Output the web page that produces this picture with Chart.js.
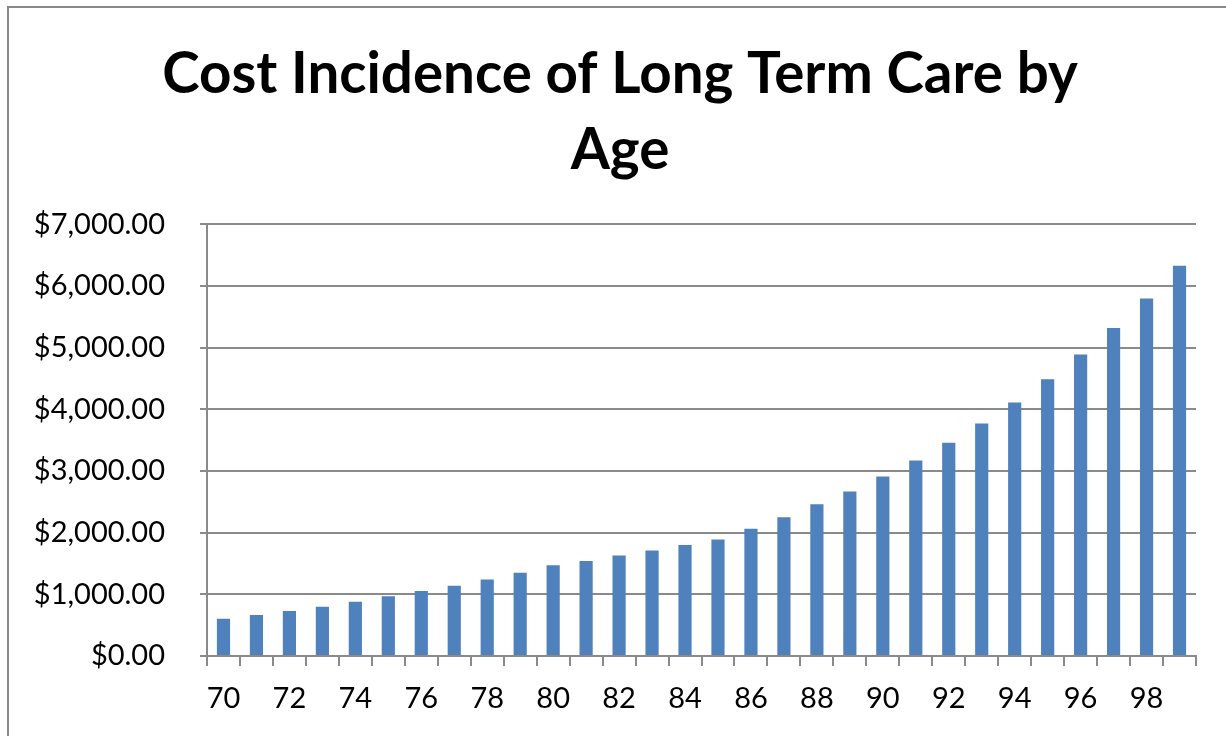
<!DOCTYPE html>
<html>
<head>
<meta charset="utf-8">
<script src="https://cdn.jsdelivr.net/npm/chart.js@4.4.1/dist/chart.umd.min.js"></script>
<style>
  html, body { margin: 0; padding: 0; background: #ffffff; }
  #wrap { position: absolute; left: 0; top: 0; width: 1226px; height: 736px; }
  #frame { position: absolute; left: 7px; top: 6px; width: 1240px; height: 760px;
           border-left: 2px solid #878787; border-top: 2px solid #878787; box-sizing: border-box; }
  canvas { position: absolute; left: 0; top: 0; }
</style>
</head>
<body>
<div id="wrap">
  <div id="frame"></div>
  <canvas id="c" width="1226" height="736"></canvas>
</div>
<script>
const chartTitle = ["Cost Incidence of Long Term Care by", "Age"];
const ages = [70,71,72,73,74,75,76,77,78,79,80,81,82,83,84,85,86,87,88,89,90,91,92,93,94,95,96,97,98,99];
const costs = [605,665,730,800,880,970,1055,1140,1240,1350,1470,1540,1630,1710,1800,1890,2065,2250,2460,2670,2910,3170,3460,3770,4110,4490,4890,5320,5800,6330];
const yMin = 0, yMax = 7000, yStep = 1000;

const gridGray = '#8a8a8a';
const fmt = v => '$' + Number(v).toLocaleString('en-US', {minimumFractionDigits: 2, maximumFractionDigits: 2});

const titleShift = {
  id: 'titleShift',
  afterLayout(chart) { if (chart.titleBlock) chart.titleBlock.left = 44; }
};

new Chart(document.getElementById('c'), {
  type: 'bar',
  data: {
    labels: ages.map(String),
    datasets: [{
      data: costs,
      backgroundColor: '#4F81BD',
      borderWidth: 0,
      barPercentage: 0.4,
      categoryPercentage: 1.0
    }]
  },
  plugins: [titleShift],
  options: {
    responsive: false,
    animation: false,
    devicePixelRatio: 1,
    layout: { padding: { left: 14, right: 30, top: 0, bottom: 0 } },
    plugins: {
      legend: { display: false },
      tooltip: { enabled: false },
      title: {
        display: true,
        text: chartTitle,
        color: '#000000',
        font: { family: 'Lato', size: 56.5, weight: 'bold', lineHeight: 1.34 },
        padding: { top: 37, bottom: 36 }
      }
    },
    scales: {
      x: {
        grid: { display: true, drawOnChartArea: false, drawTicks: true, tickLength: 10, color: gridGray, lineWidth: 2, offset: true },
        border: { display: true, color: gridGray, width: 2 },
        ticks: {
          autoSkip: false, maxRotation: 0, minRotation: 0,
          color: '#000000', font: { family: 'Lato', size: 29 }, padding: 15,
          callback: function(v, i) { return i % 2 === 0 ? this.getLabelForValue(v) : ''; }
        },
        afterFit: s => { s.height = 80; }
      },
      y: {
        min: yMin, max: yMax,
        grid: { color: gridGray, lineWidth: 2, drawTicks: true, tickLength: 7 },
        border: { display: true, color: gridGray, width: 2 },
        ticks: {
          stepSize: yStep,
          color: '#000000', font: { family: 'Lato', size: 29 }, padding: 35,
          callback: v => fmt(v)
        },
        afterFit: s => { s.width = 193; }
      }
    }
  }
});
</script>
</body>
</html>
